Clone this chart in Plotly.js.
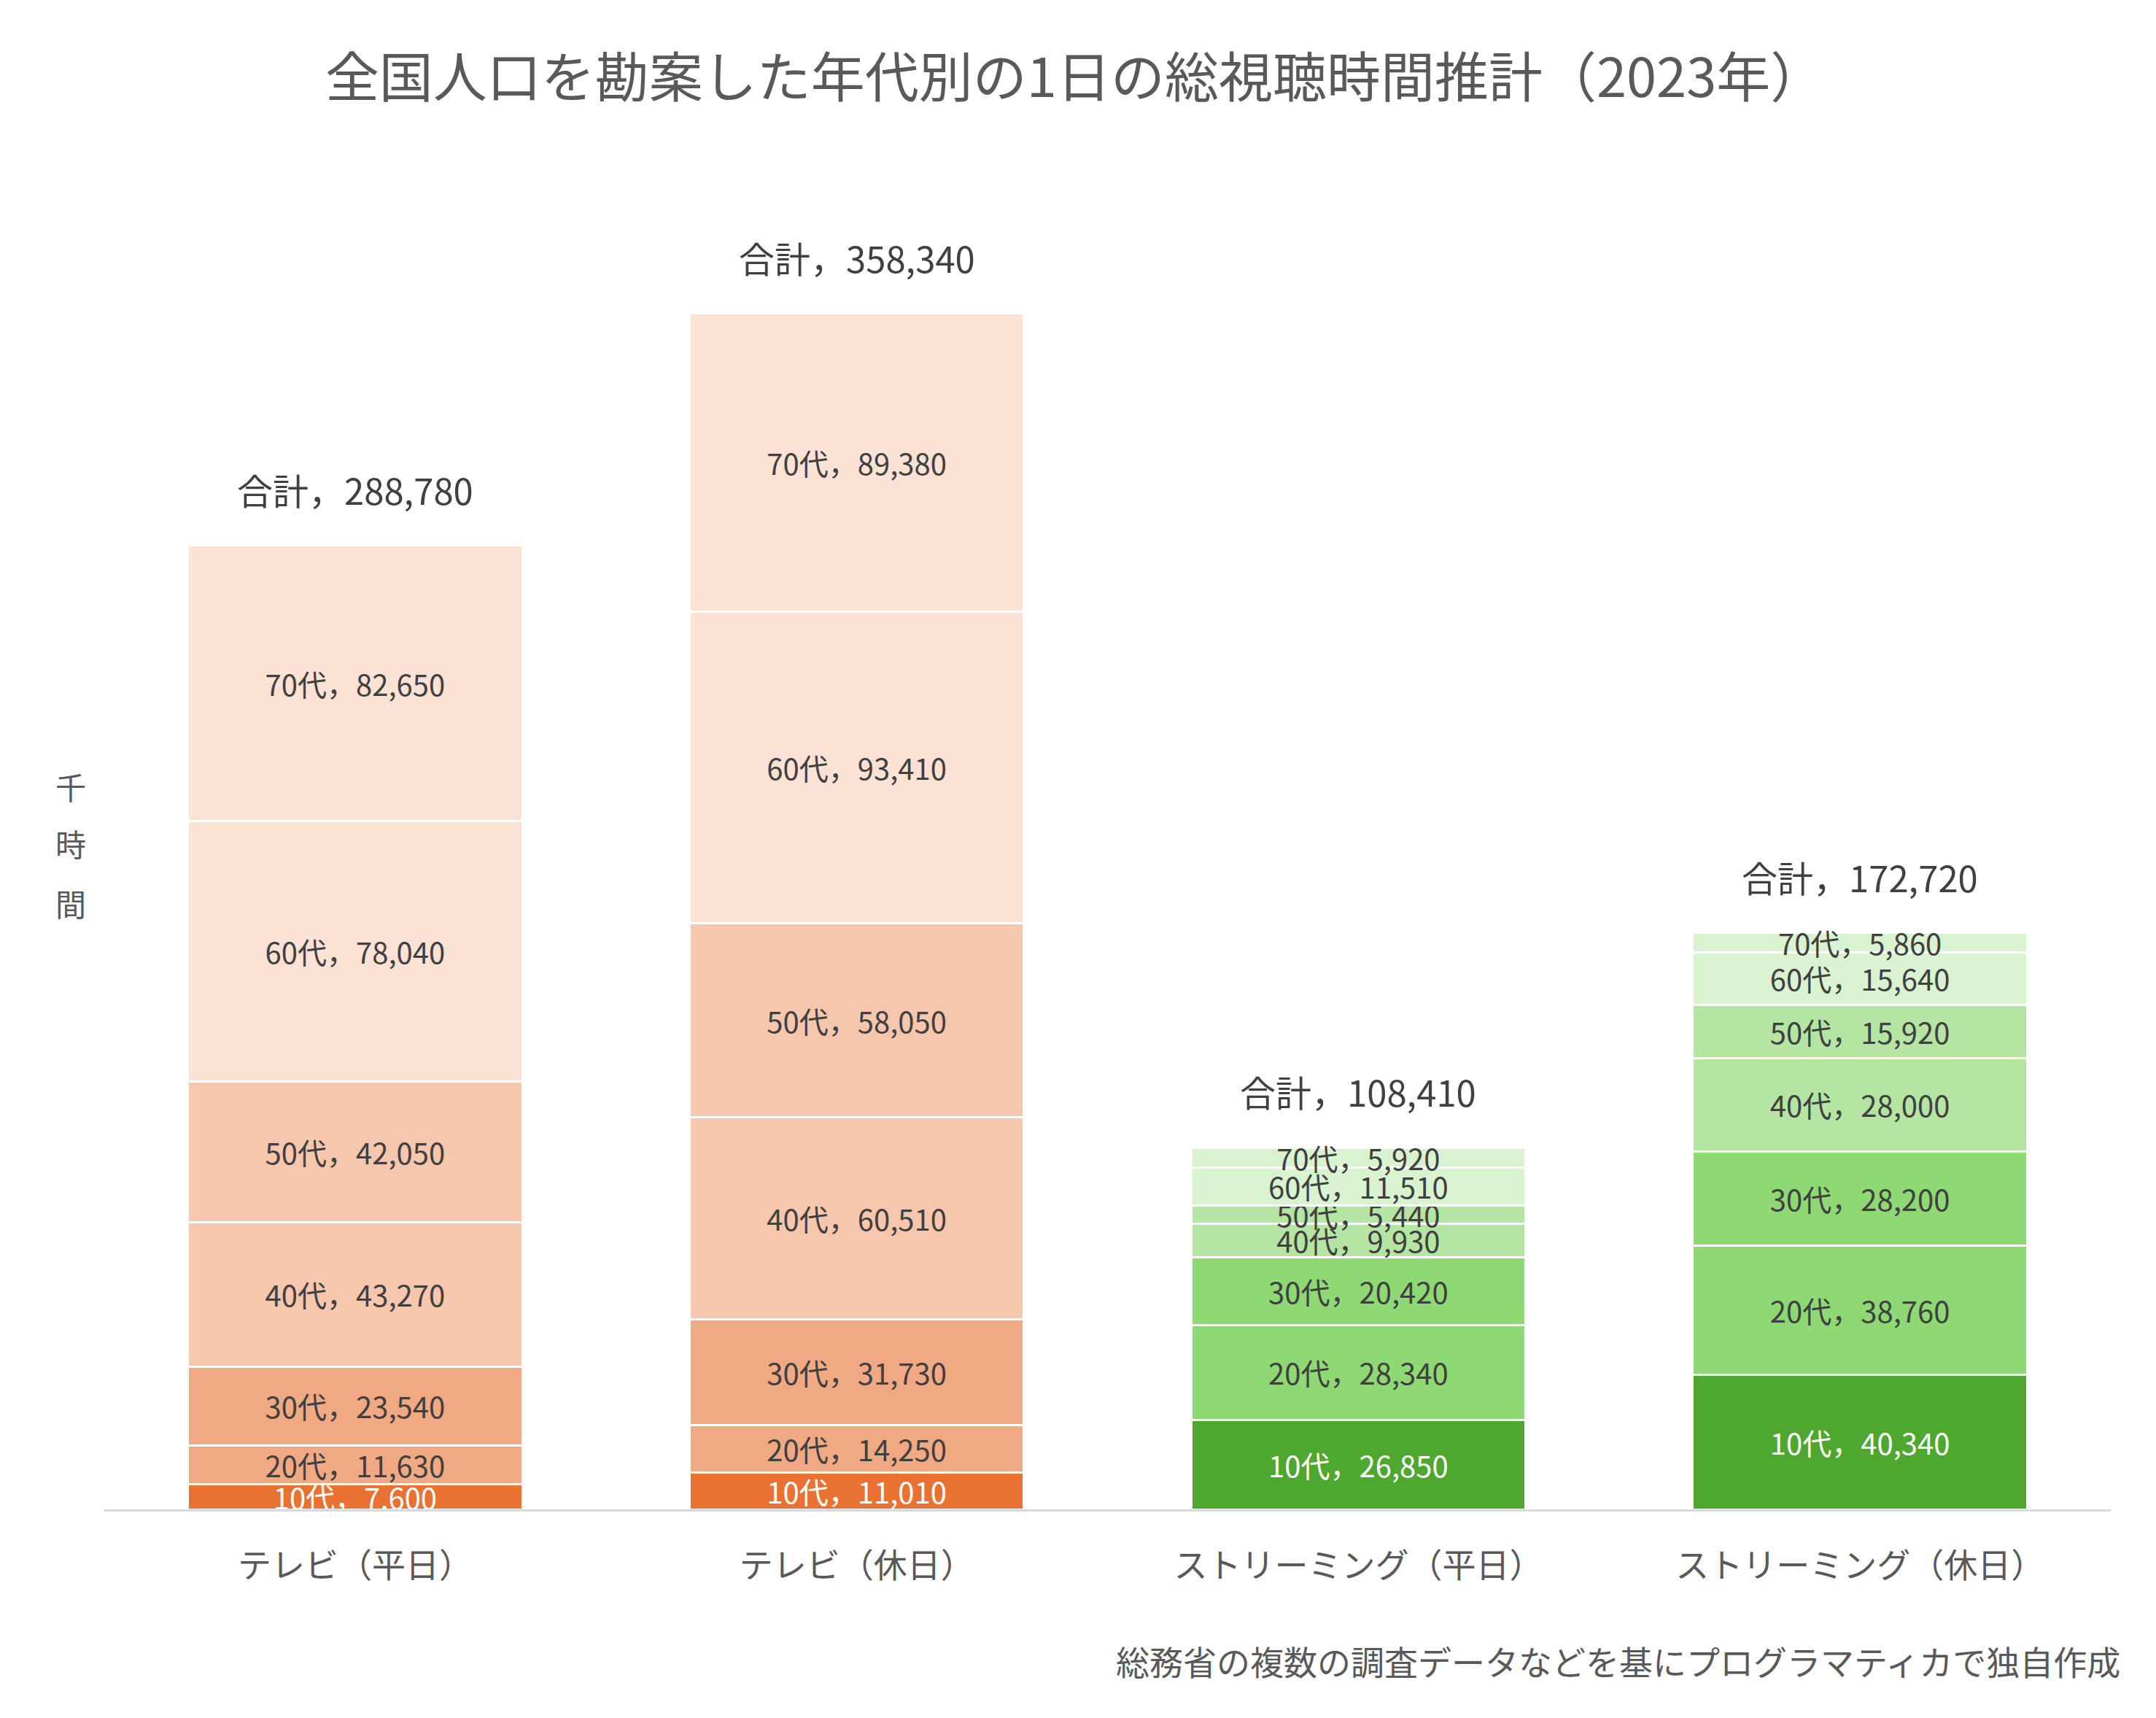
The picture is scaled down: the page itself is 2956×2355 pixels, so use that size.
<!DOCTYPE html>
<html>
<head>
<meta charset="utf-8">
<script src="https://cdn.plot.ly/plotly-3.0.1.min.js"></script>
<style>html,body{margin:0;padding:0;background:#fff;}#chart{width:2956px;height:2355px;}</style>
</head>
<body>
<div id="chart"></div>
<script>
const categories = ['テレビ（平日）', 'テレビ（休日）', 'ストリーミング（平日）', 'ストリーミング（休日）'];
const ageGroups = ['10代', '20代', '30代', '40代', '50代', '60代', '70代'];
// values per age group, across the 4 categories
const age10 = [7600, 11010, 26850, 40340];
const age20 = [11630, 14250, 28340, 38760];
const age30 = [23540, 31730, 20420, 28200];
const age40 = [43270, 60510, 9930, 28000];
const age50 = [42050, 58050, 5440, 15920];
const age60 = [78040, 93410, 11510, 15640];
const age70 = [82650, 89380, 5920, 5860];
const seriesValues = [age10, age20, age30, age40, age50, age60, age70];

const tvColors = ['#E97132', '#F1A983', '#F1A983', '#F6C6AD', '#F6C6AD', '#FBE2D5', '#FBE2D5'];
const streamColors = ['#4EA72E', '#8ED973', '#8ED973', '#B4E5A2', '#B4E5A2', '#D9F2D0', '#D9F2D0'];
const isTV = [true, true, false, false];

const title = '全国人口を勘案した年代別の1日の総視聴時間推計（2023年）';
const yLabelChars = ['千', '時', '間'];
const sourceNote = '総務省の複数の調査データなどを基にプログラマティカで独自作成';

const FONT = '"Noto Sans CJK JP", "Noto Sans", sans-serif';
const fmt = v => v.toLocaleString('en-US');

const traces = seriesValues.map((vals, i) => ({
  type: 'bar',
  name: ageGroups[i],
  x: categories,
  y: vals,
  text: vals.map(v => ageGroups[i] + '，' + fmt(v)),
  textposition: 'inside',
  insidetextanchor: 'middle',
  constraintext: 'none',
  textangle: 0,
  textfont: {family: FONT, size: 40, color: i === 0 ? '#FFFFFF' : '#404040'},
  marker: {
    color: categories.map((c, j) => isTV[j] ? tvColors[i] : streamColors[i]),
    line: {color: '#FFFFFF', width: 3}
  },
  hoverinfo: 'none',
  showlegend: false
}));

const totals = categories.map((c, j) => seriesValues.reduce((s, arr) => s + arr[j], 0));

const annotations = categories.map((c, j) => ({
  x: c, y: totals[j], xref: 'x', yref: 'y',
  text: '合計，' + fmt(totals[j]),
  showarrow: false, yanchor: 'bottom', yshift: 40,
  font: {family: FONT, size: 49, color: '#404040'}
}));

const yLabelPos = [0.542, 0.499, 0.4546];
yLabelChars.forEach((ch, k) => annotations.push({
  x: -0.0167, y: yLabelPos[k], xref: 'paper', yref: 'paper',
  text: ch, showarrow: false, xanchor: 'center', yanchor: 'middle',
  font: {family: FONT, size: 42, color: '#595959'}
}));

annotations.push({
  x: 1.0055, y: -0.1131, xref: 'paper', yref: 'paper',
  text: sourceNote, showarrow: false, xanchor: 'right', yanchor: 'middle',
  font: {family: FONT, size: 46, color: '#595959'}
});

const layout = {
  width: 2956, height: 2355,
  paper_bgcolor: '#FFFFFF', plot_bgcolor: '#FFFFFF',
  margin: {l: 143, r: 62, t: 239, b: 286},
  barmode: 'stack',
  bargap: 0.333,
  title: {
    text: title, x: 0.4985, xref: 'container', xanchor: 'center',
    y: 0.9546, yref: 'container', yanchor: 'middle',
    font: {family: FONT, size: 74, color: '#595959'}
  },
  xaxis: {
    type: 'category', showline: true, linecolor: '#D9D9D9', linewidth: 3,
    ticks: '', showgrid: false, zeroline: false,
    ticklabelstandoff: 35,
    tickfont: {family: FONT, size: 46, color: '#595959'}
  },
  yaxis: {
    range: [0, 400000], showgrid: false, zeroline: false, showline: false,
    showticklabels: false, ticks: ''
  },
  annotations: annotations,
  showlegend: false
};

Plotly.newPlot('chart', traces, layout, {displayModeBar: false, staticPlot: true});
</script>
</body>
</html>
